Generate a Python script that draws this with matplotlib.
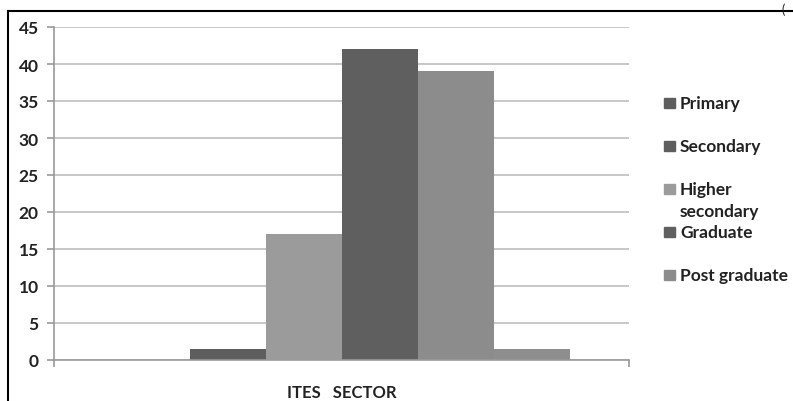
import numpy as np
import matplotlib
matplotlib.use("Agg")
import matplotlib.pyplot as plt
from matplotlib.patches import Rectangle
from matplotlib.lines import Line2D

# data
category = "ITES   SECTOR"
series = ["Primary", "Secondary", "Higher\nsecondary", "Graduate", "Post graduate", ""]
values = [0, 1.5, 17, 42, 39, 1.5]
colors = ["#5e5e5e", "#5e5e5e", "#9b9b9b", "#5f5f5f", "#8c8c8c", "#8e8e8e"]
yticks = [0, 5, 10, 15, 20, 25, 30, 35, 40, 45]

plt.rcParams['font.family'] = ['Lato', 'DejaVu Sans']
TXT = "#222222"

W, H = 793, 402
fig = plt.figure(figsize=(W / 100, H / 100), dpi=100)
ax = fig.add_axes([54 / W, 1 - 361 / H, (629 - 54) / W, (361 - 28) / H])

n = len(values)
pos = np.arange(n) - (n - 1) / 2
ax.bar(pos, values, width=1.0, color=colors, zorder=2)

half = 575 / 76 / 2
ax.set_xlim(-half, half)
ax.set_ylim(0, 45)
ax.set_yticks(yticks)
ax.yaxis.grid(True, color="#bdbdbd", linewidth=1.2, zorder=0)
ax.set_axisbelow(True)

for s in ["top", "right"]:
    ax.spines[s].set_visible(False)
for s in ["left", "bottom"]:
    ax.spines[s].set_color("#9a9a9a")
    ax.spines[s].set_linewidth(1.2)

ax.set_xticks([0])
ax.set_xticklabels([category], fontsize=12, fontweight="bold", color=TXT)
ax.tick_params(axis="x", length=0, pad=17)
ax.set_xticks([-half, half], minor=True)
ax.tick_params(axis="x", which="minor", length=5, color="#9a9a9a", width=1.2)
ax.tick_params(axis="y", length=5, color="#9a9a9a", width=1.2, labelsize=12.5,
               labelcolor=TXT, pad=6)
for t in ax.get_yticklabels():
    t.set_fontweight("bold")

# legend drawn by hand, Excel style (two-line entry keeps marker on first line)
leg_y = [104, 147, 190, 233, 276]
for lab, c, yy in zip(series[:5], colors[:5], leg_y):
    fig.patches.append(Rectangle((664 / W, 1 - (yy + 5) / H), 11 / W, 10 / H,
                                 transform=fig.transFigure, color=c))
    fig.text(680 / W, 1 - (yy - 8) / H, lab, ha="left", va="top",
             fontsize=12.5, fontweight="bold", color=TXT, linespacing=1.45)

# outer frame (cropped at right and bottom)
fig.lines.append(Line2D([8 / W, 1.0], [1 - 12 / H] * 2, transform=fig.transFigure,
                        color="black", linewidth=1.5))
fig.lines.append(Line2D([8 / W] * 2, [0, 1 - 12 / H], transform=fig.transFigure,
                        color="black", linewidth=1.5))
fig.text(782 / W, 1 - 3 / H, "(", ha="left", va="top", fontsize=9, color=TXT)

fig.savefig("out.png", dpi=100, facecolor="white")
